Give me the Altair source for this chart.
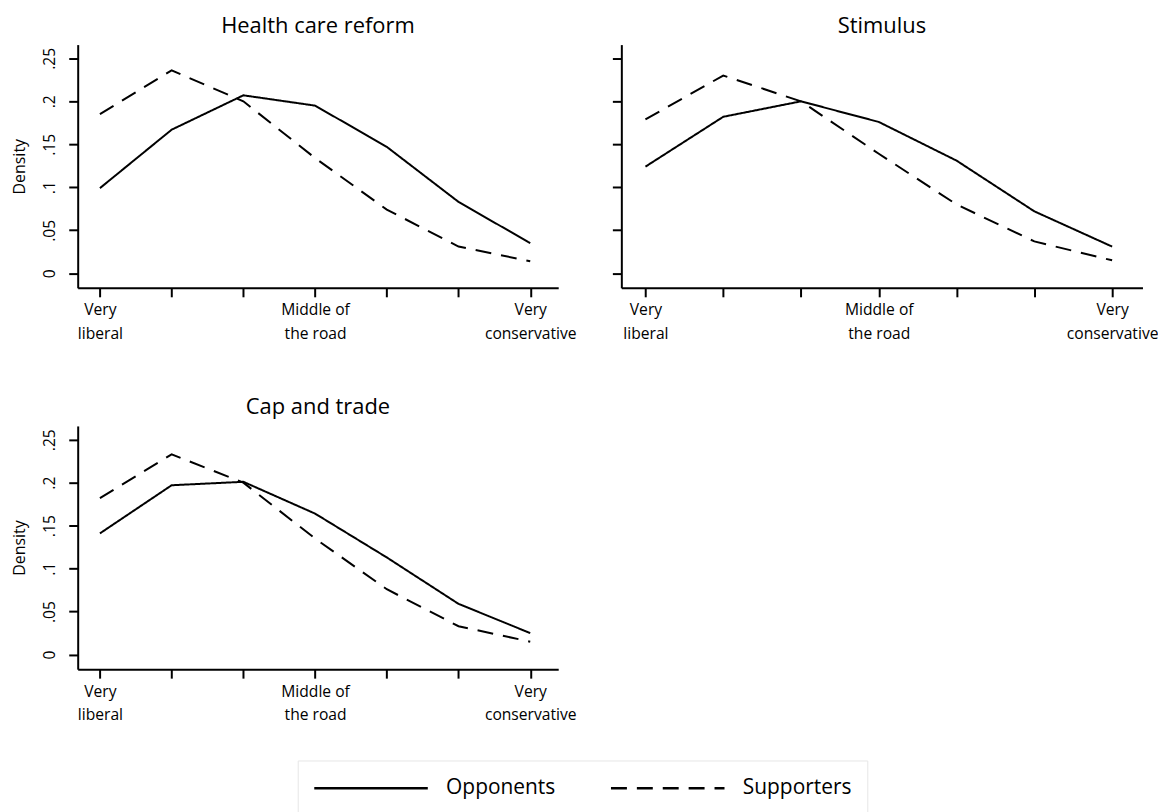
import json
import altair as alt
import pandas as pd

# ---- data ----
points = [1, 2, 3, 4, 5, 6, 7]
label_points = [1, 4, 7]
label_lines = [["Very", "liberal"], ["Middle of", "the road"], ["Very", "conservative"]]
series = ["Opponents", "Supporters"]
y_ticks = [0, 0.05, 0.1, 0.15, 0.2, 0.25]
titles = ["Health care reform", "Stimulus", "Cap and trade"]

hc_opp = [0.099, 0.167, 0.207, 0.195, 0.147, 0.083, 0.035]
hc_sup = [0.185, 0.236, 0.200, 0.134, 0.074, 0.031, 0.014]
st_opp = [0.124, 0.182, 0.200, 0.176, 0.131, 0.072, 0.031]
st_sup = [0.179, 0.230, 0.200, 0.139, 0.080, 0.037, 0.015]
ct_opp = [0.141, 0.197, 0.201, 0.164, 0.113, 0.059, 0.025]
ct_sup = [0.182, 0.233, 0.200, 0.135, 0.076, 0.033, 0.015]

FONT = "Open Sans"


def frame(opp, sup):
    return pd.DataFrame({
        "x": points * 2,
        "y": opp + sup,
        "series": [series[0]] * len(opp) + [series[1]] * len(sup),
    })


x_expr = "''"
for p, lines in reversed(list(zip(label_points, label_lines))):
    x_expr = f"datum.value == {p} ? {json.dumps(lines)} : {x_expr}"

y_expr = "datum.value == 0 ? '0' : substring(format(datum.value, '.2~f'), 1)"

# long horizontal line symbol: drawn from the entry start to 10 * r (r = sqrt(size)/2)
legend = alt.Legend(
    title=None, orient="none", legendX=221, legendY=719, direction="horizontal",
    symbolType="M-1,0H9", symbolSize=520, symbolStrokeWidth=2.5,
    symbolStrokeColor="black", symbolFillColor="transparent",
    labelFont=FONT, labelFontSize=21,
    labelColor="black", labelOffset=108, columnPadding=50, padding=15,
    strokeColor="#e6e6e6", labelLimit=300,
)


def panel(df, title, width, show_labels):
    x = alt.X(
        "x:Q",
        scale=alt.Scale(domain=[0.69, 7.39], nice=False, zero=False),
        axis=alt.Axis(
            values=points, labelExpr=x_expr, title=None, labelAngle=0,
            labelAlign="center", labelBaseline="top", labelPadding=6,
            labelLineHeight=24, labelOverlap=False, labelFlush=False,
        ),
    )
    yaxis = dict(values=y_ticks, grid=False)
    if show_labels:
        yaxis.update(
            labels=True, labelExpr=y_expr, labelAngle=270, labelAlign="center",
            labelBaseline="bottom", labelPadding=11, title="Density",
            titleAngle=270, titleBaseline="bottom", titlePadding=14,
            titleFont=FONT, titleFontSize=16, titleFontWeight="normal",
            titleColor="black",
        )
    else:
        yaxis.update(labels=False, title=None)
    y = alt.Y(
        "y:Q",
        scale=alt.Scale(domain=[-0.017, 0.266], nice=False, zero=False),
        axis=alt.Axis(**yaxis),
    )
    return (
        alt.Chart(df)
        .mark_line(color="black", strokeWidth=2)
        .encode(
            x=x,
            y=y,
            strokeDash=alt.StrokeDash(
                "series:N",
                scale=alt.Scale(domain=series, range=[[1, 0], [16, 10]]),
                legend=legend,
            ),
            detail="series:N",
        )
        .properties(
            width=width,
            height=244.3,
            title=alt.TitleParams(
                title, fontSize=22, font=FONT, fontWeight="normal",
                anchor="middle", offset=7, color="black",
            ),
        )
    )


p1 = panel(frame(hc_opp, hc_sup), titles[0], 482.6, True)
p2 = panel(frame(st_opp, st_sup), titles[1], 523.4, False)
p3 = panel(frame(ct_opp, ct_sup), titles[2], 482.6, True)

chart = (
    alt.concat(p1, p2, p3, columns=2, spacing={"row": 138, "column": 63}, bounds="flush")
    .resolve_scale(strokeDash="shared")
    .resolve_legend(strokeDash="shared")
    .properties(padding={"left": 4, "top": 5, "right": 0, "bottom": 0}, background="white")
    .configure_view(stroke=None)
    .configure_axis(
        domainColor="black", domainWidth=2, tickColor="black", tickWidth=2,
        tickSize=9, labelFont=FONT, labelFontSize=15.7, labelColor="black",
        grid=False,
    )
)

chart.save("out.html", embed_options={"renderer": "svg", "actions": False})
